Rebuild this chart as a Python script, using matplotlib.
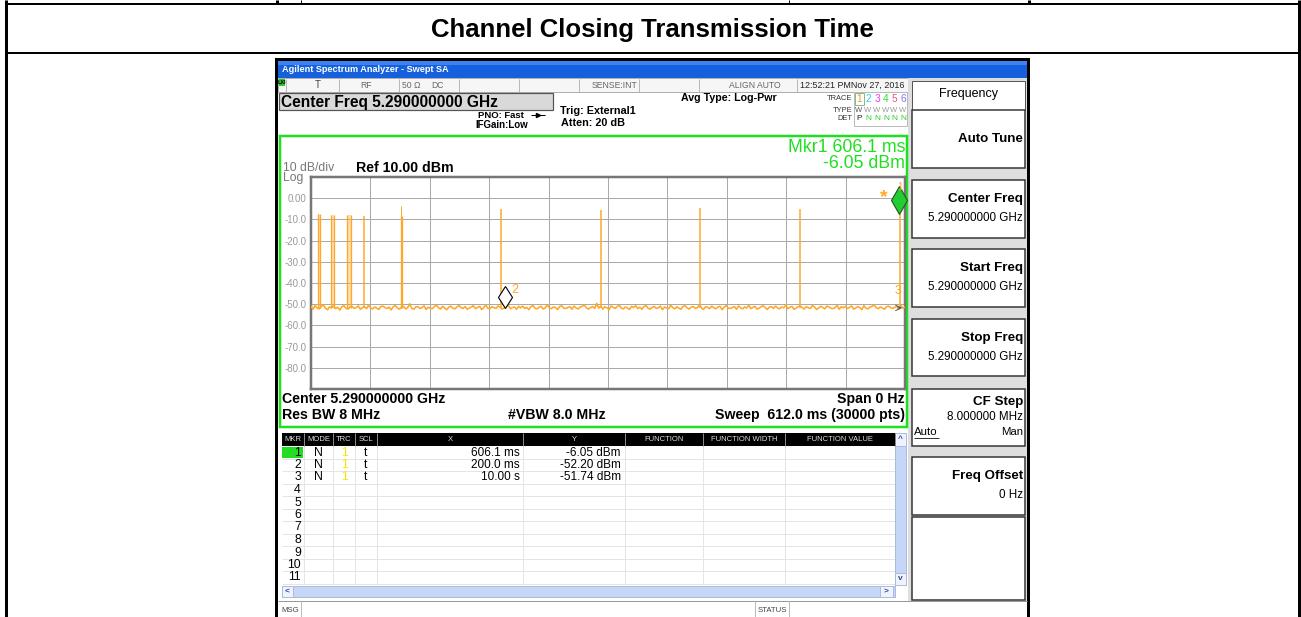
import matplotlib
matplotlib.use('Agg')
import matplotlib.pyplot as plt
import matplotlib.patches as mpatches
import matplotlib.transforms as mtrans
import numpy as np

plt.rcParams['font.family'] = ['Liberation Sans', 'DejaVu Sans']

# ---- trace data (time in ms, level in dBm) ----
sweep_ms = 612.0
ref_top = 10.0
ref_bottom = -90.0
y_ticks = [0, -10, -20, -30, -40, -50, -60, -70, -80]
y_tick_labels = ['0.00', '-10.0', '-20.0', '-30.0', '-40.0', '-50.0',
                 '-60.0', '-70.0', '-80.0']

# bursts seen on the trace
pulse_start = [6.9, 20.6, 37.4, 54.3, 92.9, 195.8, 298.5, 401.1, 504.1, 607.2]
pulse_end = [9.3, 24.0, 40.9, 54.3, 93.5, 195.8, 298.5, 401.1, 504.1, 607.2]
pulse_peak = [-7.6, -7.8, -8.0, -8.6, -8.4, -5.0, -5.5, -4.6, -5.0, -6.05]
spur_t = [93.1]
spur_peak = [-3.5]

# noise floor read across the sweep
floor_db = [
    -51.0, -52.4, -50.6, -51.8, -52.2, -51.1, -50.2, -51.9, -52.6, -51.3,
    -51.7, -50.9, -52.1, -51.4, -52.8, -51.2, -50.7, -51.9, -52.3, -51.5,
    -51.0, -52.0, -51.6, -50.8, -52.4, -51.7, -51.2, -52.1, -50.5, -51.8,
    -52.2, -51.3, -51.9, -52.5, -51.1, -50.9, -51.6, -52.0, -51.4, -52.7,
    -51.2, -50.6, -51.8, -52.3, -51.5, -51.0, -52.2, -51.7, -49.8, -51.9,
    -52.4, -51.3, -51.1, -52.0, -51.6, -50.8, -52.5, -51.4, -51.9, -52.1,
    -51.2, -50.4, -51.7, -52.3, -51.0, -51.8, -52.6, -51.5, -50.9, -51.9,
    -52.2, -51.3, -50.6, -51.6, -52.0, -51.1, -52.4, -51.8, -51.4, -50.7,
    -52.1, -51.5, -51.0, -52.5, -51.7, -50.3, -51.9, -52.2, -51.2, -51.6,
    -52.0, -50.8, -51.4, -52.3, -51.8, -51.1, -50.5, -52.1, -51.6, -51.3,
    -52.4, -51.0, -51.7, -50.9, -52.0, -51.5, -52.6, -51.2, -50.6, -51.9,
    -52.2, -51.4, -51.0, -52.3, -51.7, -50.2, -51.8, -52.1, -51.3, -51.6,
    -52.5, -51.1, -50.7, -51.9, -52.0, -51.5, -51.2, -52.4, -50.9, -51.8,
    -52.2, -51.4, -51.0, -50.4, -51.7, -52.3, -51.6, -51.1, -52.0, -49.6,
    -51.8, -50.9, -52.3, -51.2, -51.7, -52.6, -50.8, -51.5, -52.0, -51.1,
    -50.4, -51.9, -52.2, -51.3, -51.8, -52.5, -51.0, -51.6, -50.7, -52.1,
    -51.4, -52.4, -51.1, -50.6, -51.9, -52.3, -51.5, -51.0, -52.0, -51.7,
    -50.9, -52.6, -51.3, -51.8, -52.1, -50.5, -51.6, -52.2, -51.2, -51.9,
    -52.4, -51.0, -50.8, -51.7, -52.3, -51.4, -51.1, -52.0, -51.6, -50.3,
    -51.8, -52.5, -51.2, -51.5, -52.1, -50.9, -51.7, -52.2, -51.3, -51.0,
    -52.6, -51.4, -50.6, -51.9, -52.0, -51.6, -51.1, -52.4, -50.8, -51.7,
    -52.2, -51.3, -51.8, -50.5, -52.1, -51.5, -51.0, -52.3, -51.9, -51.2,
    -50.7, -51.6, -52.5, -51.4, -51.1, -52.0, -50.9, -51.8, -52.2, -51.3,
    -51.7, -50.4, -52.1, -51.5, -51.0, -52.4, -51.9, -51.2, -50.8, -51.6,
    -52.3, -51.1, -51.7, -52.0, -50.6, -51.4, -52.5, -51.8, -51.0, -51.5,
    -52.2, -50.9, -51.3, -51.9, -52.1, -51.6, -50.5, -52.4, -51.2, -51.7,
    -51.0, -52.0, -51.5, -50.8, -52.3, -51.8, -51.1, -51.6, -52.6, -50.7,
    -51.9, -52.2, -51.4, -51.0, -50.3, -51.7, -52.1, -51.3, -51.8, -52.4,
    -51.2, -50.9, -51.6, -52.0, -51.5, -51.1, -52.3, -50.6, -51.9, -51.4]
floor_level = -51.6

mkr1_t, mkr1_db = 606.1, -6.05
mkr2_t, mkr2_db = 200.0, -52.20
mkr3_db = -51.74

# marker table
table_cols = ['MKR', 'MODE', 'TRC', 'SCL', 'X', 'Y', 'FUNCTION',
              'FUNCTION WIDTH', 'FUNCTION VALUE']
mkr_mode = ['N', 'N', 'N']
mkr_x = ['606.1 ms', '200.0 ms', '10.00 s']
mkr_y = ['-6.05 dBm', '-52.20 dBm', '-51.74 dBm']

softkeys = [('Auto Tune', ''), ('Center Freq', '5.290000000 GHz'),
            ('Start Freq', '5.290000000 GHz'), ('Stop Freq', '5.290000000 GHz'),
            ('CF Step', '8.000000 MHz'), ('Freq Offset', '0 Hz')]

TRACE_C = '#FFA726'
GREEN = '#1EE01E'

W, H = 1301, 617
fig = plt.figure(figsize=(W / 100, H / 100), dpi=100)
bg = fig.add_axes([0, 0, 1, 1])
bg.set_xlim(0, W)
bg.set_ylim(H, 0)
bg.axis('off')


def px(v):
    return v * 0.72


def rect(x0, y0, x1, y1, fc='none', ec='none', lw=0, z=1):
    bg.add_patch(mpatches.Rectangle((x0, y0), x1 - x0, y1 - y0, fc=fc,
                                    ec=ec, lw=px(lw), zorder=z))


def line(xs, ys, c='black', lw=1, z=2):
    bg.plot(xs, ys, color=c, lw=px(lw), zorder=z, solid_capstyle='butt')


def txt(x, y, s, size, ha='left', va='center', c='black', w='normal', z=5):
    bg.text(x, y, s, fontsize=size, ha=ha, va=va, color=c, fontweight=w,
            zorder=z)


# ---- document table ----
line([6, 6], [0, H], lw=3)
line([1298.5, 1298.5], [0, H], lw=3)
line([6, 1299], [4, 4], lw=2)
line([6, 1299], [53, 53], lw=2)
for xv, lw in [(277, 3), (301, 1), (789, 1), (1029, 3)]:
    line([xv, xv], [0, 4], lw=lw)
txt(652, 30, 'Channel Closing Transmission Time', 18.5, ha='center', w='bold')

# ---- analyzer window ----
rect(275, 58, 1030, H, fc='black', z=1)
rect(278, 78, 1027, H, fc='white', z=1.1)
rect(278, 61, 1027, 78, fc='#1560DD', z=1.2)
rect(278, 61, 1027, 65, fc='#3C82F0', z=1.3)
txt(282, 70, 'Agilent Spectrum Analyzer - Swept SA', 6.6, c='white', w='bold')

# status row
rect(278, 78, 910, 92, fc='#F6F6F6', ec='#B0B0B0', lw=1, z=1.5)
for xv in [286, 339, 399, 459, 519, 579, 639, 699, 797]:
    line([xv, xv], [79, 92], c='#B8B8B8', lw=1)
rect(279, 79, 285, 86, fc='#22CC22', z=2)
txt(282, 82.5, 'LXI', 4, ha='center', w='bold')
txt(318, 85, 'T', 7, ha='center', c='#444444')
txt(366, 85, 'RF', 6.2, ha='center', c='#666666')
txt(411, 85, '50 Ω', 6.2, ha='center', c='#666666')
txt(437, 85, 'DC', 6.2, ha='center', c='#666666')
txt(637, 85, 'SENSE:INT', 6.2, ha='right', c='#666666')
txt(755, 85, 'ALIGN AUTO', 6.2, ha='center', c='#666666')
txt(800, 85, '12:52:21 PMNov 27, 2016', 6.4, c='#222222')

# settings row
rect(279, 93, 553, 110, fc='#D9D9D9', ec='#555555', lw=1.2, z=2)
txt(281, 102, 'Center Freq 5.290000000 GHz', 11.2, w='bold')
txt(524, 115, 'PNO: Fast', 6.8, ha='right', w='bold')
line([531, 545], [115, 115], lw=1)
bg.plot([538], [115], marker='>', ms=3, color='black', zorder=3)
txt(528, 125.5, 'IFGain:Low', 7, ha='right', w='bold')
txt(560, 111, 'Trig: External1', 7.8, w='bold')
txt(561, 123, 'Atten: 20 dB', 7.8, w='bold')
txt(777, 98, 'Avg Type: Log-Pwr', 7.7, ha='right', w='bold')
txt(852, 98, 'TRACE', 5.4, ha='right', c='#333333')
txt(852, 110, 'TYPE', 5.4, ha='right', c='#333333')
txt(852, 119, 'DET', 5.4, ha='right', c='#333333')
rect(854, 92, 907, 126, ec='#BBBBBB', lw=1, z=2)
rect(855, 93, 864, 105, ec='#88BB88', lw=1, z=2)
trace_cols = ['#F59A1A', '#19D8F0', '#F03CF0', '#39D839', '#F0508C', '#8A6AF5']
for k, xv in enumerate([859, 868, 877, 886, 894, 903]):
    txt(xv, 99, str(k + 1), 7.3, ha='center', c=trace_cols[k])
    txt(xv, 110, 'W', 5.5, ha='center', c='#555555' if k == 0 else '#999999')
    txt(xv, 119, 'P' if k == 0 else 'N', 6, ha='center',
        c='#222222' if k == 0 else '#22CC22')

# graph frame
rect(279.5, 135.5, 907, 427, ec=GREEN, lw=2.5, z=3)
txt(905, 148, 'Mkr1 606.1 ms', 12.8, ha='right', c=GREEN)
txt(905, 164, '-6.05 dBm', 12.8, ha='right', c=GREEN)
txt(283, 168, '10 dB/div', 8.8, c='#777777')
txt(283, 178, 'Log', 8.8, c='#777777')
txt(356, 168, 'Ref 10.00 dBm', 10.2, w='bold')
txt(282, 399, 'Center 5.290000000 GHz', 10.2, w='bold')
txt(282, 415, 'Res BW 8 MHz', 10.2, w='bold')
txt(508, 415, '#VBW 8.0 MHz', 10.2, w='bold')
txt(905, 399, 'Span 0 Hz', 10.2, ha='right', w='bold')
txt(905, 415, 'Sweep  612.0 ms (30000 pts)', 10.2, ha='right', w='bold')

# ---- softkey panel ----
rect(908, 78, 1027, 601, fc='#DEDEDE', z=1.5)
rect(912, 81, 1025, 110, fc='white', ec='#555555', lw=1, z=2)
txt(968, 94, 'Frequency', 9, ha='center')
key_y = [(110, 168), (180, 238), (249, 307), (319, 376), (389, 446), (457, 515)]
for (title, sub), (y0, y1) in zip(softkeys, key_y):
    rect(912, y0, 1025, y1, fc='white', ec='#333333', lw=1.5, z=2)
    if title == 'CF Step':
        txt(1023, y0 + 13, title, 9.6, ha='right', w='bold')
        txt(1023, y0 + 28, sub, 8.4, ha='right')
    elif sub:
        txt(1023, y0 + 19, title, 9.6, ha='right', w='bold')
        txt(1023, y0 + 38, sub, 8.4, ha='right')
    else:
        txt(1023, (y0 + y1) / 2, title, 9.6, ha='right', w='bold')
txt(914, 432, 'Auto', 8.2)
line([914, 939], [437.5, 437.5], lw=0.8)
txt(1023, 432, 'Man', 8.2, ha='right')
rect(912, 517, 1025, 600, fc='white', ec='#333333', lw=1.5, z=2)

# ---- marker table ----
col_x = [282, 304, 333, 355, 377, 523, 625, 703, 785, 895]
rect(282, 433, 895, 446, fc='black', z=2)
for k, name in enumerate(table_cols):
    txt((col_x[k] + col_x[k + 1]) / 2, 439.5, name, 5.5, ha='center',
        c='#DDDDDD', z=3)
    line([col_x[k + 1], col_x[k + 1]], [433, 446], c='#888888', lw=1, z=3)
    line([col_x[k + 1], col_x[k + 1]], [446, 584], c='#E4E4E4', lw=1)
for r in range(11):
    yc = 452.5 + 12.5 * r
    line([282, 895], [yc + 6.2, yc + 6.2], c='#E4E4E4', lw=1)
    txt(301, yc, str(r + 1), 8.8, ha='right')
rect(282, 447, 303, 458, fc='#22DD22', z=1.8)
for r in range(len(mkr_x)):
    yc = 452.5 + 12.5 * r
    txt(318, yc, mkr_mode[r], 8.8, ha='center')
    txt(344, yc, '1', 8.8, ha='center', c='#F2E800')
    txt(366, yc, 't', 8.8, ha='center')
    txt(520, yc, mkr_x[r], 8.5, ha='right')
    txt(621, yc, mkr_y[r], 8.5, ha='right')
# scrollbars
rect(895, 433, 906, 585, fc='#C6D6F6', ec='#AABBDD', lw=1, z=2)
rect(895, 433, 906, 446, fc='#EEF3FF', ec='#AABBDD', lw=1, z=2.1)
rect(895, 573, 906, 585, fc='#EEF3FF', ec='#AABBDD', lw=1, z=2.1)
rect(282, 586, 895, 597, fc='#C6D6F6', ec='#AABBDD', lw=1, z=2)
rect(282, 586, 293, 597, fc='#EEF3FF', ec='#AABBDD', lw=1, z=2.1)
rect(880, 586, 893, 597, fc='#EEF3FF', ec='#AABBDD', lw=1, z=2.1)
txt(287.5, 591.5, '<', 6, ha='center', c='#334488', w='bold')
txt(886.5, 591.5, '>', 6, ha='center', c='#334488', w='bold')
txt(900.5, 439.5, '^', 6, ha='center', c='#334488', w='bold')
txt(900.5, 579, 'v', 6, ha='center', c='#334488', w='bold')
# message row
line([278, 1027], [600.5, 600.5], c='#999999', lw=1)
line([301, 301], [601, H], c='#BBBBBB', lw=1)
line([755, 755], [601, H], c='#BBBBBB', lw=1)
line([789, 789], [601, H], c='#BBBBBB', lw=1)
txt(281, 611, 'MSG', 5.6, c='#444444')
txt(772, 611, 'STATUS', 5.6, ha='center', c='#444444')

# ---- trace plot ----
ax = fig.add_axes([311 / W, 1 - 389 / H, 594 / W, 212 / H], zorder=4)
ax.set_xlim(0, sweep_ms)
ax.set_ylim(ref_bottom, ref_top)
ax.set_facecolor('white')
ax.set_xticks(np.arange(0, sweep_ms + 1, sweep_ms / 10))
ax.set_xticklabels([])
ax.set_yticks(y_ticks, y_tick_labels)
ax.tick_params(length=0, pad=3, labelsize=7, labelcolor='#999999')
ax.grid(True, color='#AAAAAA', lw=px(1))
ax.set_axisbelow(True)
for s in ax.spines.values():
    s.set_color('#777777')
    s.set_linewidth(px(2.5))

t_floor = np.linspace(0, sweep_ms, len(floor_db))
ax.plot(t_floor, floor_db, color=TRACE_C, lw=px(1.6), zorder=3)
for t0, t1, pk in zip(pulse_start, pulse_end, pulse_peak):
    if t1 > t0:
        ax.fill_between([t0, t1], floor_level, pk, color=TRACE_C, alpha=0.35,
                        lw=0, zorder=3)
        ax.vlines([t0, t1], floor_level, pk, color=TRACE_C, lw=px(1.3),
                  zorder=3)
    else:
        ax.vlines(t0, floor_level, pk, color=TRACE_C, lw=px(1.5), zorder=3)
ax.vlines(spur_t, floor_level, spur_peak, color=TRACE_C, lw=px(1), zorder=3)

# markers (diamond sits just above the marked point)
up = lambda d: ax.transData + mtrans.ScaledTranslation(0, d / 100,
                                                       fig.dpi_scale_trans)
ax.plot([mkr1_t], [mkr1_db], marker='d', ms=14, mfc='#22CC33', mec='#225522',
        mew=0.8, zorder=6, transform=up(11), clip_on=False)
ax.plot([mkr2_t], [mkr2_db], marker='d', ms=11.5, mfc='white', mec='black',
        mew=0.8, zorder=6, transform=up(12), clip_on=False)
ax.annotate('2', (mkr2_t, mkr2_db), xytext=(6, 16), textcoords='offset pixels',
            color=TRACE_C, fontsize=9, zorder=6)
ax.annotate('*', (mkr1_t, mkr1_db), xytext=(-19, 9), textcoords='offset pixels',
            color=TRACE_C, fontsize=14, fontweight='bold', zorder=6)
ax.annotate('1', (mkr1_t, mkr1_db), xytext=(-2, 21), textcoords='offset pixels',
            color=TRACE_C, fontsize=7, zorder=6)
ax.annotate('3', (sweep_ms, mkr3_db), xytext=(-10, 14), textcoords='offset pixels',
            color=TRACE_C, fontsize=9, zorder=6)
ax.annotate('', (sweep_ms, mkr3_db), xytext=(-10, 0), textcoords='offset pixels',
            arrowprops=dict(arrowstyle='->', color='#555555', lw=0.7), zorder=6)

fig.savefig('out.png', dpi=100)
